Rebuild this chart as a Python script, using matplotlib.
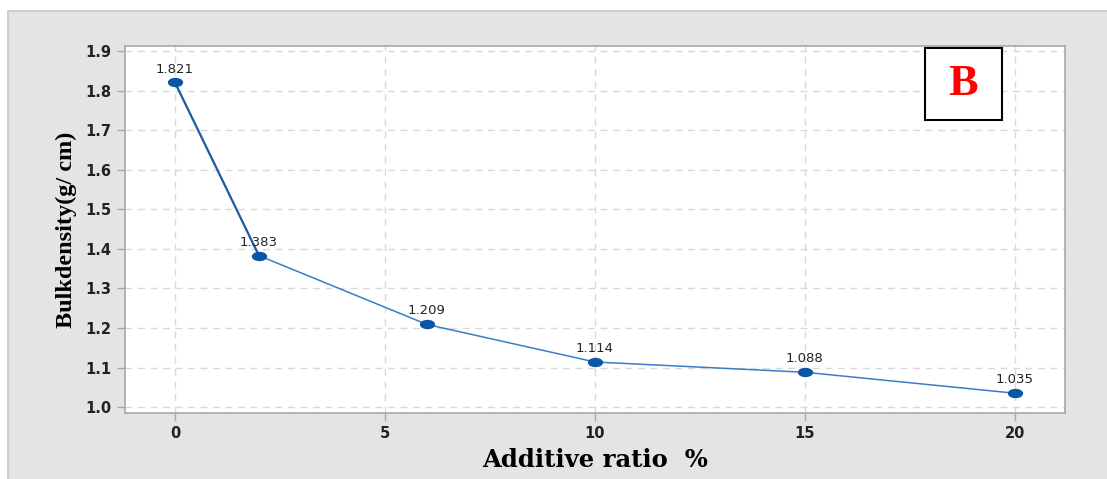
import matplotlib
matplotlib.use("Agg")
import matplotlib.pyplot as plt
from matplotlib.patches import Rectangle
from matplotlib.path import Path
from matplotlib.transforms import Affine2D

# data
additive = [0, 2, 6, 10, 15, 20]
density = [1.821, 1.383, 1.209, 1.114, 1.088, 1.035]
xticks = [0, 5, 10, 15, 20]
yticks = [1.0, 1.1, 1.2, 1.3, 1.4, 1.5, 1.6, 1.7, 1.8, 1.9]

fig = plt.figure(figsize=(11.07, 4.79), dpi=100)
fig.patch.set_facecolor("white")

# gray backing panel
fig.patches.append(Rectangle((0.0072, -0.01), 1.1, 0.987, transform=fig.transFigure,
                             facecolor="#e4e4e4", edgecolor="#c8c8c8", lw=1.2, zorder=-5))

ax = fig.add_axes([0.1129, 0.1378, 0.849, 0.766])
ax.set_zorder(2)
ax.set_facecolor("white")

# flattened dot marker
ellipse = Path.unit_circle().transformed(Affine2D().scale(1.75, 1.0))

# steep first segment drawn a bit heavier, like the original
ax.plot(additive[:2], density[:2], color="#1a5aa3", lw=1.6, zorder=3)
ax.plot(additive[1:], density[1:], color="#3b7cc4", lw=1.1, zorder=3)
ax.plot(additive, density, ls="none", marker=ellipse, ms=10, color="#0a56a6",
        markeredgecolor="#0a56a6", zorder=4)

for x, y in zip(additive, density):
    ax.annotate("%.3f" % y, (x, y), xytext=(0, 5), textcoords="offset points",
                ha="center", va="bottom", fontsize=9.5, color="#222222",
                family="DejaVu Sans")

ax.set_xlim(-1.19, 21.19)
ax.set_ylim(0.985, 1.913)
ax.set_xticks(xticks)
ax.set_yticks(yticks)
ax.set_xticklabels([str(t) for t in xticks], fontsize=10.5, fontweight="bold", color="#222222")
ax.set_yticklabels(["%.1f" % t for t in yticks], fontsize=10.5, fontweight="bold", color="#222222")

ax.grid(True, color="#d9d9d9", ls=(0, (5, 4)), lw=1)
ax.set_axisbelow(True)
for s in ax.spines.values():
    s.set_color("#a8a8a8")
    s.set_linewidth(1.2)
ax.tick_params(direction="out", length=6, color="#a8a8a8", width=1)

ax.set_xlabel("Additive ratio  %", family="DejaVu Serif", fontweight="bold",
              fontsize=17.5, labelpad=5)
ax.set_ylabel("Bulkdensity(g/ cm)", family="Liberation Serif", fontweight="bold",
              fontsize=17.5, labelpad=6)

# "B" panel tag
ax.add_patch(Rectangle((0.851, 0.798), 0.082, 0.197, transform=ax.transAxes,
                       facecolor="white", edgecolor="black", lw=1.5, zorder=5))
ax.text(0.892, 0.8965, "B", transform=ax.transAxes, ha="center", va="center",
        fontsize=32, fontweight="bold", color="red", family="Liberation Serif", zorder=6)

fig.savefig("out.png", dpi=100)
